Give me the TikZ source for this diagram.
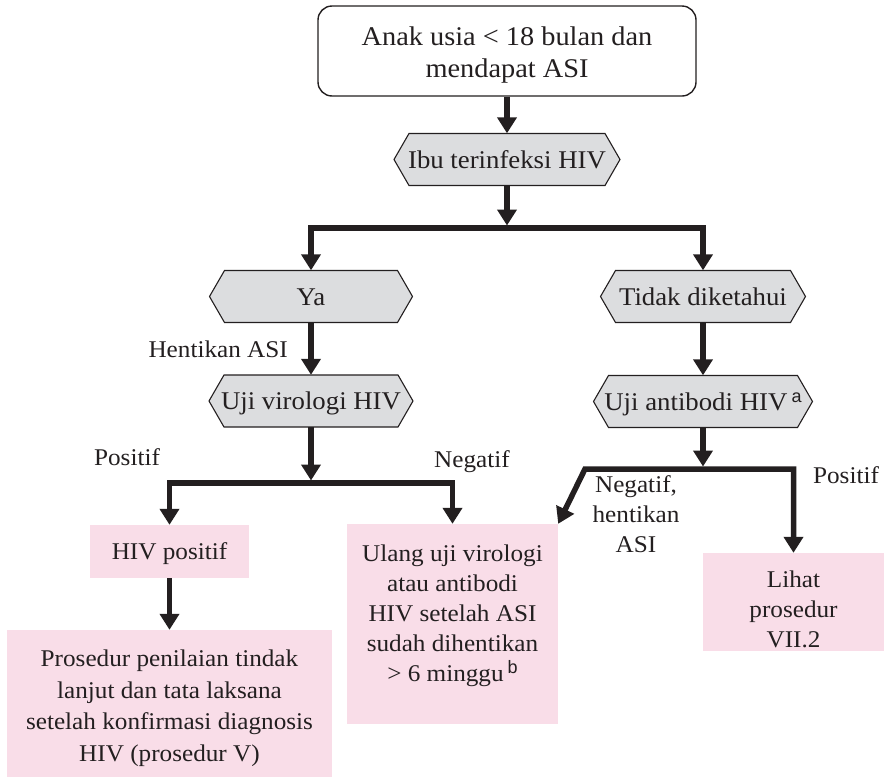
\documentclass[tikz,border=0pt]{standalone}
\usepackage{fontspec}
\setmainfont{Liberation Serif}[FakeStretch=1.05]
\newfontfamily\supfont{Liberation Sans}
\usetikzlibrary{arrows.meta}

\definecolor{inkc}{HTML}{231F20}
\definecolor{hexgray}{HTML}{DCDDDF}
\definecolor{pinkc}{HTML}{F9DDE8}

\tikzset{
  flow/.style={draw=inkc, line width=5.5pt, line join=miter,
    -{Triangle[width=19pt,length=16pt]}},
  flowtwo/.style={draw=inkc, line width=5.5pt, line join=miter,
    {Triangle[width=19pt,length=16pt]}-{Triangle[width=19pt,length=16pt]}},
  hexframe/.style={fill=hexgray, draw=inkc, line width=1.1pt, line join=miter},
  hexlabel/.style={font=\fontsize{25.5}{31}\selectfont, text=inkc,
    inner sep=0pt, text height=17pt, text depth=0pt},
  startbox/.style={draw=inkc, line width=1.4pt, rounded corners=14pt,
    fill=white, inner sep=0pt},
  starttext/.style={font=\fontsize{27}{32}\selectfont, text=inkc,
    align=center, inner sep=0pt},
  pinkbox/.style={fill=pinkc, draw=none, inner sep=0pt},
  boxtext/.style={font=\fontsize{24}{30}\selectfont, text=inkc,
    align=center, inner sep=0pt},
  lbl/.style={font=\fontsize{24}{30}\selectfont, text=inkc,
    inner sep=0pt, text height=16pt, text depth=0pt},
  lblmulti/.style={font=\fontsize{24}{30}\selectfont, text=inkc,
    align=center, inner sep=0pt},
}

% hexagonal decision box: name, centre x, centre y, half width, text
\newcommand\flowhex[5]{%
  \draw[hexframe] ({#2-#4},#3) -- ({#2-#4+15},{#3-26}) -- ({#2+#4-15},{#3-26})
    -- ({#2+#4},#3) -- ({#2+#4-15},{#3+26}) -- ({#2-#4+15},{#3+26}) -- cycle;
  \node[hexlabel, minimum width=2*#4pt, minimum height=52pt] (#1) at (#2,#3) {#5};
}

% footnote marks set in a raised sans letter
\newcommand\supmark[1]{\raisebox{8pt}{\fontsize{18}{18}\selectfont\supfont #1}}

\begin{document}
\begin{tikzpicture}[x=1pt, y=-1pt]
  \useasboundingbox (0,0) rectangle (889,777);

  % start box
  \node[startbox, minimum width=378pt, minimum height=90pt] (start) at (507,51) {};
  \node[starttext] (starttxt) at (507,55) {Anak usia < 18 bulan dan\\mendapat ASI};

  % decision hexagons
  \flowhex{ibu}{507}{159.5}{113}{Ibu terinfeksi HIV}
  \flowhex{ya}{311}{296.5}{101.5}{Ya}
  \flowhex{tidak}{703}{296.5}{102.5}{Tidak diketahui}
  \flowhex{virol}{311}{401}{102}{Uji virologi HIV}
  \flowhex{antib}{703}{401.5}{109.5}{Uji antibodi HIV\,\supmark{a}}

  % outcome boxes
  \node[pinkbox, minimum width=159pt, minimum height=53pt] (hivpos) at (169.5,551.5) {};
  \node[boxtext, text height=16pt, text depth=0pt] (hivpostxt) at (169.5,551.5) {HIV positif};

  \node[pinkbox, minimum width=325pt, minimum height=147pt] (prosedur) at (169.5,703.5) {};
  \node[boxtext, font=\fontsize{24}{31.5}\selectfont] (prosedurtxt) at (169.5,708)
    {Prosedur penilaian tindak\\lanjut dan tata laksana\\setelah konfirmasi diagnosis\\HIV (prosedur V)};

  \node[pinkbox, minimum width=211pt, minimum height=200pt] (ulang) at (452.5,624) {};
  \node[boxtext] (ulangtxt) at (452.5,616)
    {Ulang uji virologi\\atau antibodi\\HIV setelah ASI\\sudah dihentikan\\> 6 minggu\,\supmark{b}};

  \node[pinkbox, minimum width=181pt, minimum height=98pt] (lihat) at (793.5,602) {};
  \node[boxtext] (lihattxt) at (793.5,609) {Lihat\\prosedur\\VII.2};

  % junction points of the branching connectors
  \coordinate (j1a) at (507,225.5);
  \coordinate (j1) at (507,228);
  \coordinate (j2a) at (311,480.5);
  \coordinate (j2) at (311,483);
  \coordinate (j3a) at (703,466.5);
  \coordinate (j3) at (703,469);
  \coordinate (j3l) at (585,469);

  % connectors
  \draw[flow] (start.south) -- (ibu.north);
  \draw[flow] (ibu.south) -- (j1a);
  \draw[flowtwo] (ya.north) |- (j1) -| (tidak.north);

  \draw[flow] (ya.south) -- (virol.north);
  \draw[flow] (tidak.south) -- (antib.north);

  \draw[flow] (virol.south) -- (j2a);
  \draw[flowtwo] (hivpos.north) |- (j2) -| (ulang.north);
  \draw[flow] (hivpos.south) -- (prosedur.north);

  \draw[flow] (antib.south) -- (j3a);
  \draw[flowtwo] (ulang.north east) -- (j3l) -| (lihat.north);

  % connector labels
  \node[lbl, anchor=east] (lhent) at (288,349.5) {Hentikan ASI};
  \node[lbl] (lpos1) at (127,457) {Positif};
  \node[lbl] (lneg1) at (472,459.5) {Negatif};
  \node[lbl] (lpos2) at (846,475.5) {Positif};
  \node[lblmulti] (lneg2) at (636,514) {Negatif,\\hentikan\\ASI};
\end{tikzpicture}
\end{document}
